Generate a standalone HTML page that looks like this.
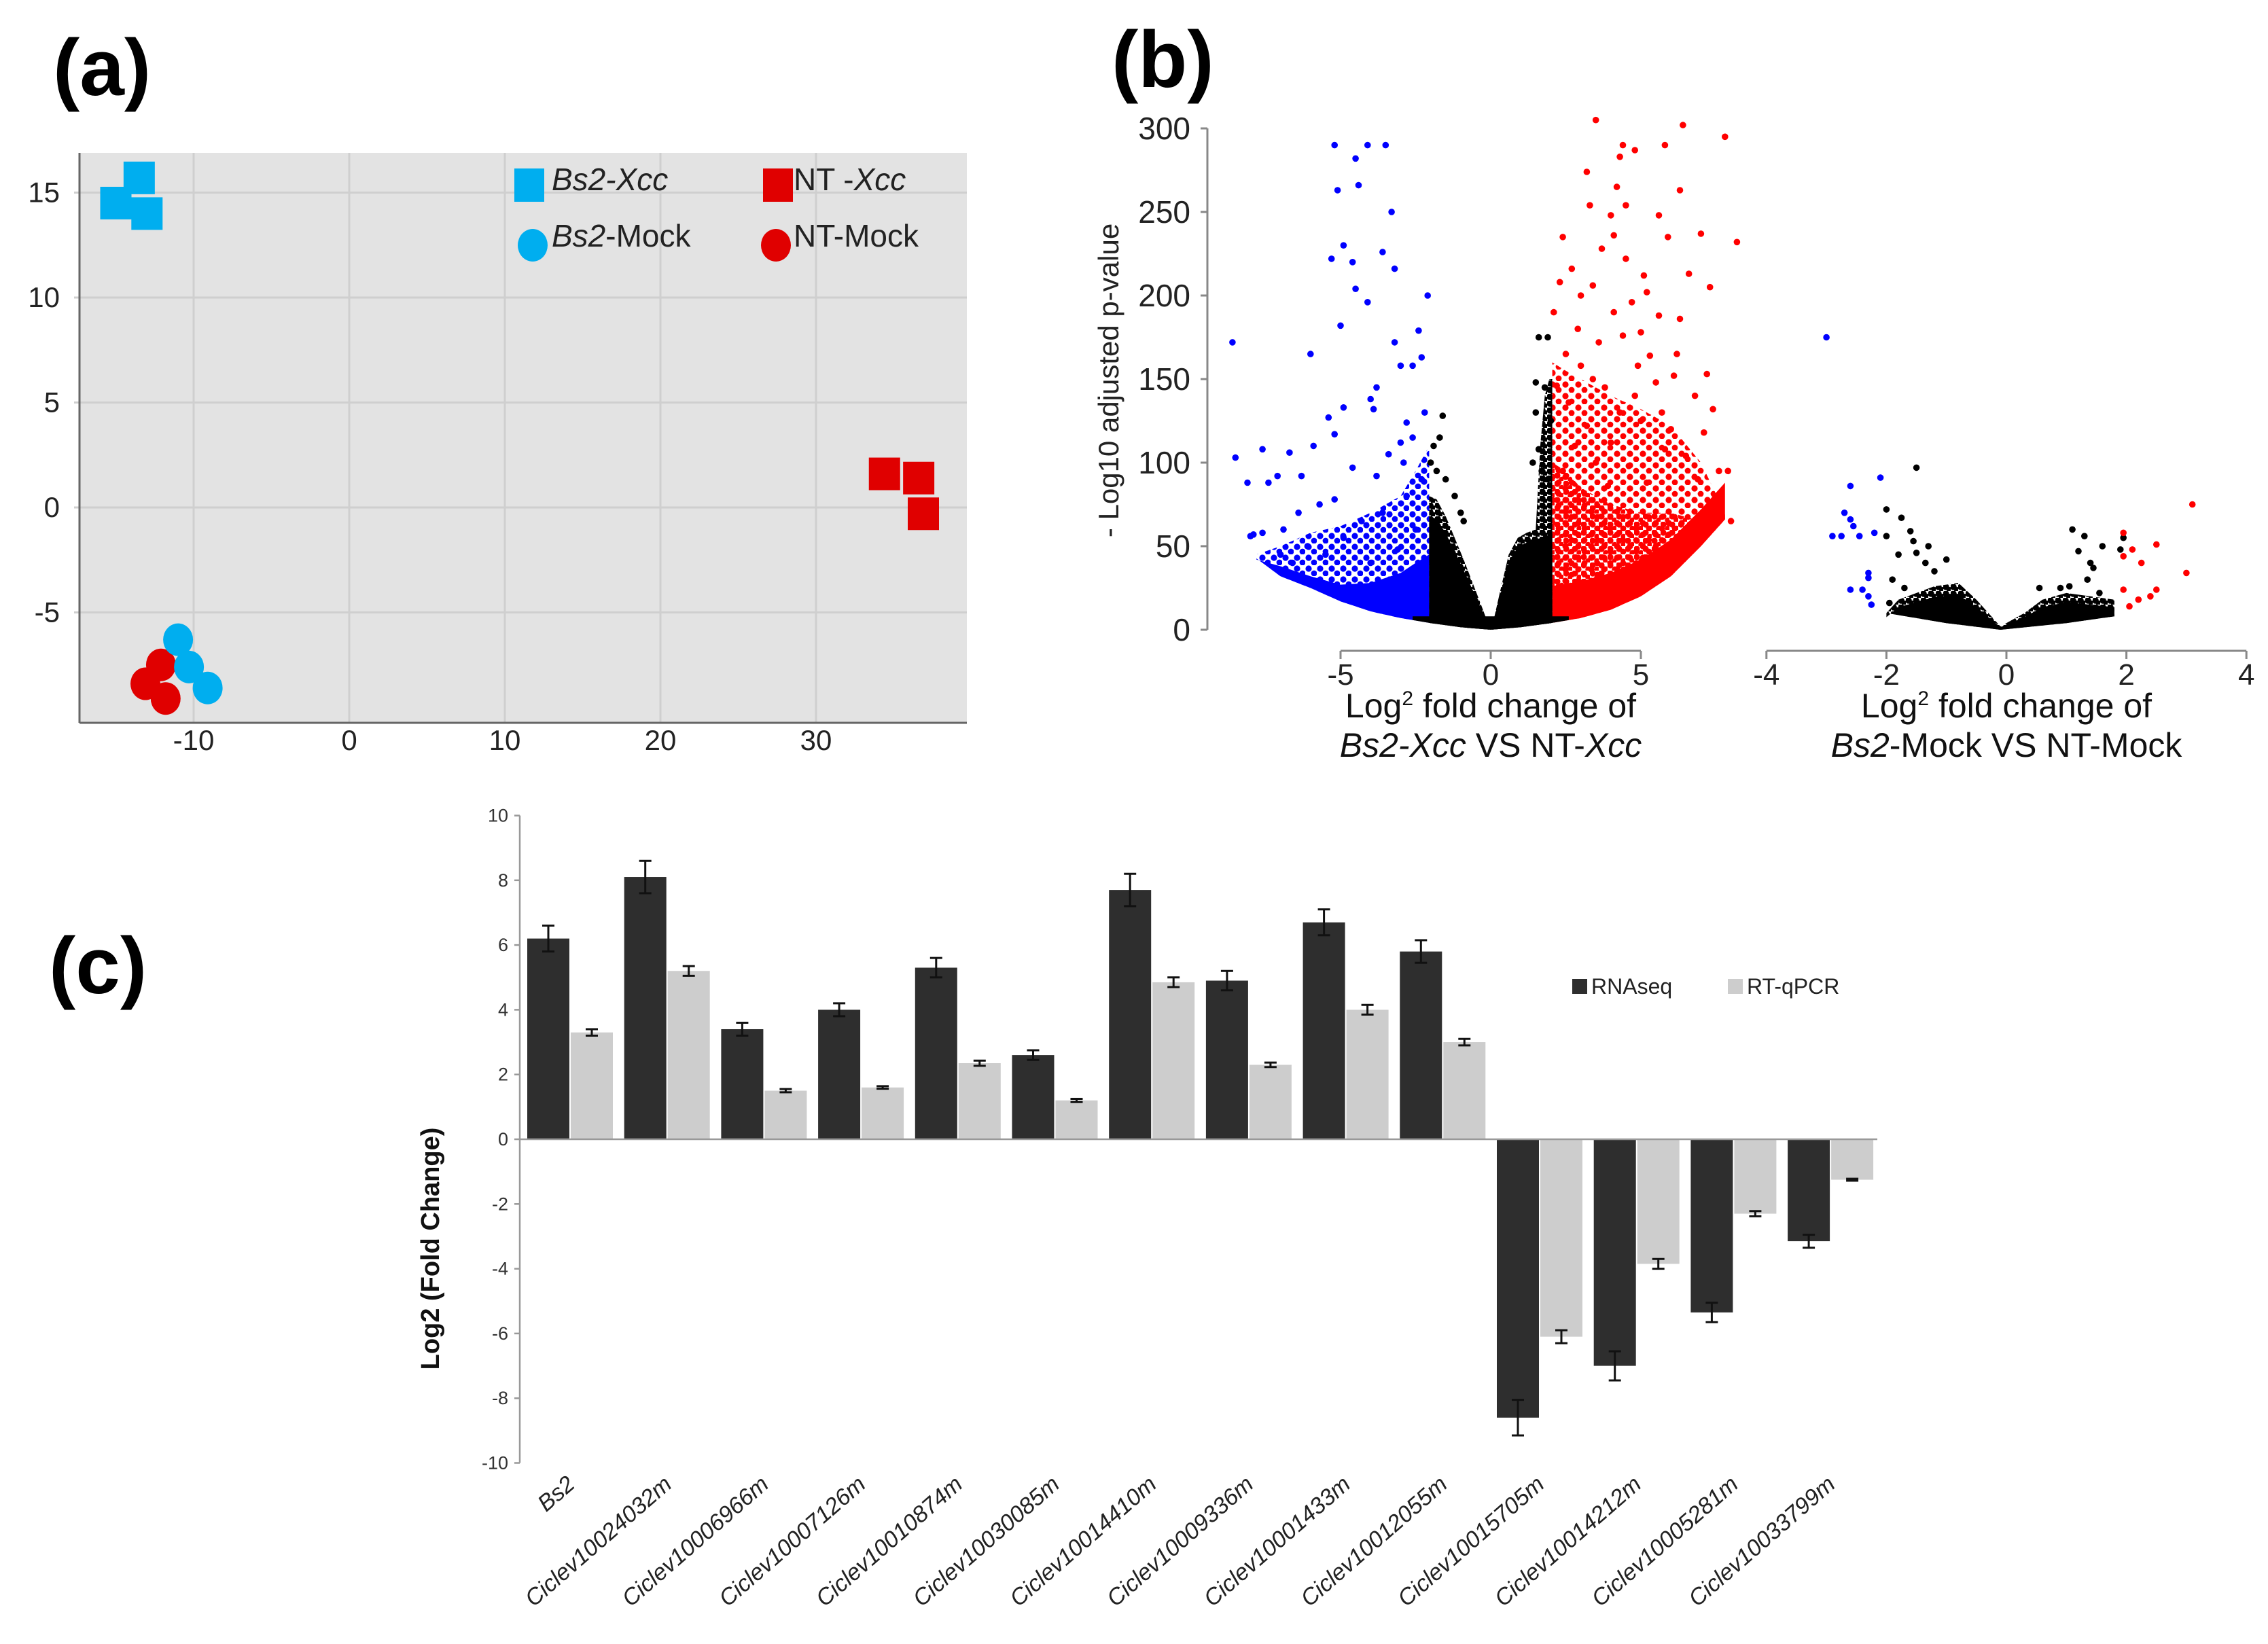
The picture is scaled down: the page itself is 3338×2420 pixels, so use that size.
<!DOCTYPE html>
<html><head><meta charset="utf-8"><title>Figure</title>
<style>
html,body{margin:0;padding:0;background:#fff;}
svg{display:block;}
text{font-family:"Liberation Sans Narrow","Liberation Sans",sans-serif;}
</style></head>
<body>
<svg id="fig" xmlns="http://www.w3.org/2000/svg" width="3338" height="2420" viewBox="0 0 3338 2420">
<defs>
<pattern id="redDots" width="13" height="12" patternUnits="userSpaceOnUse"><circle cx="4" cy="4" r="4.6" fill="#ff0000"/><circle cx="10.5" cy="10" r="4.2" fill="#ff0000"/></pattern>
<pattern id="redDotsSparse" width="19" height="17" patternUnits="userSpaceOnUse"><circle cx="5" cy="5" r="4.6" fill="#ff0000"/><circle cx="14" cy="13" r="4.4" fill="#ff0000"/></pattern>
<pattern id="blueDots" width="17" height="16" patternUnits="userSpaceOnUse"><circle cx="5" cy="5" r="4.6" fill="#0000ff"/><circle cx="13" cy="12" r="4.4" fill="#0000ff"/></pattern>
<pattern id="blackDots" width="11" height="10" patternUnits="userSpaceOnUse"><circle cx="4" cy="4" r="4.8" fill="#000"/><circle cx="9.5" cy="8.5" r="4.5" fill="#000"/></pattern>
</defs>
<rect x="0" y="0" width="3338" height="2420" fill="#fff"/>
<text x="78" y="140" font-size="118" font-weight="bold" font-family="Liberation Sans, sans-serif">(a)</text>
<text x="1636" y="128" font-size="118" font-weight="bold" font-family="Liberation Sans, sans-serif">(b)</text>
<text x="72" y="1462" font-size="118" font-weight="bold" font-family="Liberation Sans, sans-serif">(c)</text>
<g id="pa"></g>
<g id="pb"></g>
<g id="pc"></g>
</svg>
<script>
// ---------- Panel (a) data ----------
const pcaXTicks = [-10, 0, 10, 20, 30];
const pcaYTicks = [-5, 0, 5, 10, 15];
const bs2XccX = [-13.5, -15.0, -13.0];
const bs2XccY = [15.7, 14.5, 14.0];
const ntXccX = [34.4, 36.6, 36.9];
const ntXccY = [1.6, 1.4, -0.3];
const bs2MockX = [-11.0, -10.3, -9.1];
const bs2MockY = [-6.3, -7.6, -8.6];
const ntMockX = [-12.1, -13.1, -11.8];
const ntMockY = [-7.5, -8.4, -9.1];

// ---------- Panel (b) data ----------
const volYTicks = [0, 50, 100, 150, 200, 250, 300];
const volLXTicks = [-5, 0, 5];
const volRXTicks = [-4, -2, 0, 2, 4];
const bottomEnvX = [-8.5, -7, -6, -5, -4, -3, -2, -1, 0, 1, 2, 3, 4, 5, 6, 7, 7.8];
const bottomEnvY = [52, 32, 25, 17, 11, 7, 4, 1.5, 0, 1.5, 4, 7, 12, 20, 32, 50, 66];
const blueTopX = [-2.05, -2.5, -3, -4, -5, -6, -7, -7.8];
const blueTopY = [110, 95, 80, 70, 62, 58, 50, 45];
const blueCoreTopY = [45, 40, 34, 28, 27, 32, 38, 42];
const blackLTopX = [-2.05, -1.8, -1.5, -1.2, -0.9, -0.6, -0.3, -0.05];
const blackLTopY = [80, 78, 68, 55, 42, 28, 14, 2];
const blackRTopX = [0.05, 0.3, 0.6, 0.9, 1.2, 1.5, 1.8, 2.05];
const blackRTopY = [2, 22, 45, 55, 58, 60, 62, 64];
const blackRSpikeX = [1.5, 1.65, 1.8, 1.95, 2.05];
const blackRSpikeY = [60, 110, 140, 150, 150];
const redTopX = [2.05, 2.5, 3, 4, 5, 6, 7, 7.8];
const redTopY = [160, 155, 150, 140, 132, 122, 100, 70];
const redCoreTopY = [100, 95, 85, 75, 70, 70, 65, 66];
const redSparse = [[3.5,305],[6.4,302],[7.8,295],[4.4,290],[4.3,283],[5.8,290],[4.8,287],[3.2,274],[6.3,263],[3.3,254],[4.0,248],[4.5,254],[5.6,248],[2.4,235],[4.1,236],[5.9,235],[7.0,237],[8.2,232],[4.5,222],[2.7,216],[3.4,206],[5.1,212],[5.2,202],[2.3,208],[3.0,200],[4.7,196],[6.6,213],[2.1,190],[4.1,190],[5.6,188],[6.3,186],[4.4,176],[3.6,172],[5.3,164],[2.5,165],[3.0,158],[4.9,158],[6.1,152],[7.2,153],[2.2,146],[3.8,145],[5.5,148],[6.8,140],[7.4,132],[2.6,136],[4.3,130],[5.0,125],[6.0,120],[7.1,118],[3.2,122],[2.8,110],[4.0,112],[5.8,108],[6.5,104],[7.6,95],[7.9,95],[8.0,65],[3.5,100],[4.6,98],[6.9,90],[7.5,75],[5.2,88],[2.4,95],[3.9,86],[5.7,130],[4.8,140],[3.4,150],[6.2,165],[2.9,180],[5.0,178],[3.7,228],[7.3,205],[4.2,265]];
const blueSparse = [[-5.2,290],[-3.5,290],[-4.1,290],[-4.5,282],[-5.1,263],[-4.4,266],[-3.3,250],[-4.9,230],[-5.3,222],[-3.6,226],[-4.6,220],[-3.2,216],[-4.5,204],[-4.1,196],[-2.1,200],[-5.0,182],[-2.4,179],[-3.2,172],[-6.0,165],[-8.6,172],[-2.3,163],[-3.0,158],[-2.6,158],[-3.8,145],[-4.0,138],[-5.4,127],[-3.9,132],[-4.9,133],[-2.8,124],[-8.5,103],[-8.1,88],[-7.6,108],[-7.1,92],[-7.4,88],[-6.7,106],[-6.3,92],[-5.9,110],[-5.2,117],[-3.0,112],[-6.9,60],[-7.6,58],[-6.4,70],[-5.7,75],[-5.2,78],[-4.6,97],[-4.3,65],[-3.4,105],[-2.6,115],[-7.9,57],[-8.0,56],[-2.3,90],[-2.8,80],[-3.6,70],[-4.9,55],[-6.1,50],[-7.0,45],[-2.5,60],[-3.1,48],[-4.0,40],[-5.5,45],[-2.2,130],[-2.9,100],[-6.6,40],[-3.8,92]];
const blackSparseL = [[1.6,175],[1.9,175],[1.5,148],[1.8,145],[1.5,130],[2.0,125],[1.6,108],[-1.6,128],[-1.7,115],[-1.9,110],[-2.0,100],[-1.8,95],[-1.5,90],[1.4,100],[1.7,95],[1.9,90],[-1.2,80],[-1.0,70],[-0.9,65]];
const mockBlackTopX = [-2.0, -1.8, -1.5, -1.2, -0.8, -0.5, -0.1, 0.3, 0.6, 1.0, 1.4, 1.8];
const mockBlackTopY = [10, 18, 22, 26, 28, 18, 2, 10, 18, 22, 20, 18];
const mockBottomX = [-2.0, -1.0, -0.1, 1.0, 1.8];
const mockBottomY = [10, 4, 0, 4, 8];
const mockBlue = [[-3.0,175],[-2.1,91],[-2.6,86],[-2.7,70],[-2.6,66],[-2.55,62],[-2.9,56],[-2.75,56],[-2.2,58],[-2.45,56],[-2.3,34],[-2.3,31],[-2.4,24],[-2.6,24],[-2.3,20],[-2.25,15]];
const mockBlack = [[-1.5,97],[-2.0,72],[-1.75,67],[-1.6,59],[-1.55,53],[-1.3,50],[-1.5,46],[-2.0,56],[-1.8,45],[-1.35,40],[-1.0,42],[-1.2,35],[-1.9,30],[-1.7,25],[-1.95,16],[1.1,60],[1.3,56],[1.6,50],[1.95,55],[1.9,48],[1.2,47],[1.4,40],[1.45,37],[1.35,30],[1.05,26],[0.55,25],[0.9,25],[1.55,22]];
const mockRed = [[3.1,75],[1.95,58],[2.5,51],[2.1,48],[1.95,44],[2.25,40],[3.0,34],[1.95,24],[2.5,24],[2.4,20],[2.2,18],[2.05,14]];

// ---------- Panel (c) data ----------
const genes = ["Bs2","Ciclev10024032m","Ciclev10006966m","Ciclev10007126m","Ciclev10010874m","Ciclev10030085m","Ciclev10014410m","Ciclev10009336m","Ciclev10001433m","Ciclev10012055m","Ciclev10015705m","Ciclev10014212m","Ciclev10005281m","Ciclev10033799m"];
const rnaseq = [6.2, 8.1, 3.4, 4.0, 5.3, 2.6, 7.7, 4.9, 6.7, 5.8, -8.6, -7.0, -5.35, -3.15];
const rnaseqErr = [0.4, 0.5, 0.2, 0.2, 0.3, 0.15, 0.5, 0.3, 0.4, 0.35, 0.55, 0.45, 0.3, 0.2];
const qpcr = [3.3, 5.2, 1.5, 1.6, 2.35, 1.2, 4.85, 2.3, 4.0, 3.0, -6.1, -3.85, -2.3, -1.25];
const qpcrErr = [0.1, 0.15, 0.05, 0.04, 0.08, 0.05, 0.15, 0.07, 0.15, 0.1, 0.2, 0.15, 0.08, 0.03];
const barYTicks = [-10, -8, -6, -4, -2, 0, 2, 4, 6, 8, 10];

const NS = "http://www.w3.org/2000/svg";
function mk(parent, tag, attrs, txt) {
  const e = document.createElementNS(NS, tag);
  for (const k in attrs) e.setAttribute(k, attrs[k]);
  if (txt !== undefined) e.textContent = txt;
  parent.appendChild(e);
  return e;
}

// ================= Panel A =================
(function(){
  const g = document.getElementById('pa');
  const ax = x => 514 + 22.9 * x;
  const ay = y => 747 - 30.9 * y;
  const L = 117, R = 1423, T = 225, B = 1064;
  const bg = mk(g, 'rect', {x:L, y:T, width:R-L, height:B-T, fill:'#e3e3e3'});
  
  
  pcaXTicks.forEach(v => {
    const l = mk(g, 'line', {x1:ax(v), x2:ax(v), y1:T, y2:B, stroke:'#cfcfcf', 'stroke-width':3});
    
    
    const t = mk(g, 'text', {x:ax(v), y:1104, 'font-size':42, 'text-anchor':'middle', fill:'#222'}, String(v));
    
    
  });
  pcaYTicks.forEach(v => {
    const l = mk(g, 'line', {x1:L-8, x2:R, y1:ay(v), y2:ay(v), stroke:'#cfcfcf', 'stroke-width':3});
    
    
    const t = mk(g, 'text', {x:88, y:ay(v)+14, 'font-size':42, 'text-anchor':'end', fill:'#222'}, String(v));
    
    
  });
  const a1 = mk(g, 'line', {x1:L, x2:L, y1:T, y2:B, stroke:'#666', 'stroke-width':3});
  
  
  const a2 = mk(g, 'line', {x1:L, x2:R, y1:B, y2:B, stroke:'#666', 'stroke-width':3});
  
  
  function squares(xs, ys, col, name) {
    xs.forEach((x, i) => {
      const r = mk(g, 'rect', {x:ax(x)-23, y:ay(ys[i])-24, width:46, height:48, fill:col});
      
      
    });
  }
  function circles(xs, ys, col, name) {
    xs.forEach((x, i) => {
      const c = mk(g, 'ellipse', {cx:ax(x), cy:ay(ys[i]), rx:22, ry:24, fill:col});
      
      
    });
  }
  squares(bs2XccX, bs2XccY, '#00aeef', 'bs2-xcc-point');
  squares(ntXccX, ntXccY, '#e00000', 'nt-xcc-point');
  circles(ntMockX, ntMockY, '#e00000', 'nt-mock-point');
  circles(bs2MockX, bs2MockY, '#00aeef', 'bs2-mock-point');
  const lg = mk(g, 'g', {});
  
  
  const items = [
    {shape:'rect', x:757, y:248, col:'#00aeef', it:'Bs2-Xcc', rest:'', tx:812, ty:280, name:'legend-bs2-xcc'},
    {shape:'circ', x:784, y:361, col:'#00aeef', it:'Bs2', rest:'-Mock', tx:812, ty:363, name:'legend-bs2-mock'},
    {shape:'rect', x:1123, y:248, col:'#e00000', it:'', pre:'NT -', it2:'Xcc', tx:1168, ty:280, name:'legend-nt-xcc'},
    {shape:'circ', x:1142, y:361, col:'#e00000', it:'', rest:'NT-Mock', tx:1168, ty:363, name:'legend-nt-mock'}
  ];
  items.forEach(o => {
    const e = mk(lg, 'g', {});
    
    
    if (o.shape === 'rect') mk(e, 'rect', {x:o.x, y:o.y, width:44, height:49, fill:o.col});
    else mk(e, 'ellipse', {cx:o.x, cy:o.y, rx:22, ry:24, fill:o.col});
    const t = mk(e, 'text', {x:o.tx, y:o.ty, 'font-size':46, fill:'#222'});
    if (o.pre) mk(t, 'tspan', {}, o.pre);
    if (o.it) mk(t, 'tspan', {'font-style':'italic'}, o.it);
    if (o.rest) mk(t, 'tspan', {}, o.rest);
    if (o.it2) mk(t, 'tspan', {'font-style':'italic'}, o.it2);
  });
})();

// ================= Panel B =================
(function(){
  const g = document.getElementById('pb');
  const by = y => 927 - 2.46 * y;
  const bxL = x => 2194 + 44.2 * x;
  const bxR = x => 2953 + 88.3 * x;
  const ya = mk(g, 'line', {x1:1777, x2:1777, y1:by(300), y2:by(0), stroke:'#888', 'stroke-width':3});
  
  
  volYTicks.forEach(v => {
    const tk = mk(g, 'line', {x1:1767, x2:1777, y1:by(v), y2:by(v), stroke:'#888', 'stroke-width':3});
    
    
    const t = mk(g, 'text', {x:1752, y:by(v)+16, 'font-size':46, 'text-anchor':'end', fill:'#222'}, String(v));
    
    
  });
  const yt = mk(g, 'text', {x:0, y:0, 'font-size':42, 'text-anchor':'middle', fill:'#222', transform:'translate(1646,560) rotate(-90)', 'font-family':'DejaVu Sans, sans-serif'}, '- Log10 adjusted p-value');
  
  

  function poly(pts, fill, name, sx) {
    const p = mk(g, 'polygon', {points: pts.map(q => sx(q[0]).toFixed(1)+','+by(q[1]).toFixed(1)).join(' '), fill:fill});
    
    
  }
  function interp(xs, ys, x) {
    for (let i = 0; i < xs.length - 1; i++) {
      if (x >= xs[i] && x <= xs[i+1]) { const t = (x - xs[i])/(xs[i+1]-xs[i]); return ys[i] + t*(ys[i+1]-ys[i]); }
    }
    return ys[ys.length-1];
  }
  const bEnv = x => interp(bottomEnvX, bottomEnvY, x);
  function bottomPts(x0, x1) {
    const out = [[x0, bEnv(x0)]];
    bottomEnvX.forEach((x, i) => { if (x > x0 && x < x1) out.push([x, bottomEnvY[i]]); });
    out.push([x1, bEnv(x1)]);
    return out;
  }
  function region(tx, ty, fill, name) {
    const x0 = Math.min(tx[0], tx[tx.length-1]), x1 = Math.max(tx[0], tx[tx.length-1]);
    const top = tx.map((x, i) => [x, ty[i]]).sort((a, b) => a[0] - b[0]);
    const bot = bottomPts(x0, x1).reverse();
    poly(top.concat(bot), fill, name, bxL);
  }
  region(blueTopX, blueTopY, 'url(#blueDots)', 'down-regulated-scatter');
  region(blueTopX, blueCoreTopY, '#0000ff', 'down-regulated-dense');
  region(redTopX, redTopY, 'url(#redDotsSparse)', 'up-regulated-scatter');
  region(redTopX, redCoreTopY, 'url(#redDots)', 'up-regulated-dense');
  region(redTopX, redTopX.map(x => bEnv(x) + 22), '#ff0000', 'up-regulated-core');
  region(blackLTopX, blackLTopY, 'url(#blackDots)', 'non-significant-scatter');
  region(blackLTopX, blackLTopY.map(v => v * 0.85), '#000', 'non-significant-dense');
  region(blackRSpikeX, blackRSpikeY, 'url(#blackDots)', 'non-significant-scatter');
  region(blackRTopX, blackRTopY, 'url(#blackDots)', 'non-significant-scatter');
  region(blackRTopX, blackRTopY.map(v => v * 0.9), '#000', 'non-significant-dense');
  region([-2.6, 2.6], [8, 8], '#000', 'non-significant-band');

  function dots(arr, col, sx, name) {
    arr.forEach(p => {
      const c = mk(g, 'circle', {cx:sx(p[0]).toFixed(1), cy:by(p[1]).toFixed(1), r:4.8, fill:col});
      
      
    });
  }
  dots(redSparse, '#ff0000', bxL, 'up-regulated-gene');
  dots(blueSparse, '#0000ff', bxL, 'down-regulated-gene');
  dots(blackSparseL, '#000', bxL, 'non-significant-gene');
  {
    const top = mockBlackTopX.map((x, i) => [x, mockBlackTopY[i]]);
    const bot = mockBottomX.map((x, i) => [x, mockBottomY[i]]).reverse();
    const pts = top.concat(bot).map(q => bxR(q[0]).toFixed(1)+','+by(q[1]).toFixed(1)).join(' ');
    const p1 = mk(g, 'polygon', {points: pts, fill:'url(#blackDots)'});
    
    
    const top3 = mockBlackTopX.map((x, i) => [x, mockBlackTopY[i] * 0.75]);
    const pts3 = top3.concat(bot).map(q => bxR(q[0]).toFixed(1)+','+by(q[1]).toFixed(1)).join(' ');
    const p3 = mk(g, 'polygon', {points: pts3, fill:'#000'});
    
    
  }
  dots(mockBlack, '#000', bxR, 'mock-non-significant-gene');
  dots(mockBlue, '#0000ff', bxR, 'mock-down-regulated-gene');
  dots(mockRed, '#ff0000', bxR, 'mock-up-regulated-gene');

  function xaxis(ticks, sx, name) {
    const a = mk(g, 'line', {x1:sx(ticks[0]), x2:sx(ticks[ticks.length-1]), y1:958, y2:958, stroke:'#888', 'stroke-width':3});
    
    
    ticks.forEach(v => {
      const tk = mk(g, 'line', {x1:sx(v), x2:sx(v), y1:958, y2:970, stroke:'#888', 'stroke-width':3});
      
      
      const t = mk(g, 'text', {x:sx(v), y:1008, 'font-size':44, 'text-anchor':'middle', fill:'#222'}, String(v));
      
      
    });
  }
  xaxis(volLXTicks, bxL, 'x-axis-xcc');
  xaxis(volRXTicks, bxR, 'x-axis-mock');
  function xlabel(cx, parts, name) {
    const g2 = mk(g, 'g', {});
    
    
    const t1 = mk(g2, 'text', {x:cx, y:1056, 'font-size':50, 'text-anchor':'middle', fill:'#111'});
    mk(t1, 'tspan', {}, 'Log');
    mk(t1, 'tspan', {'font-size':30, dy:-18}, '2');
    mk(t1, 'tspan', {dy:18}, ' fold change of');
    const t2 = mk(g2, 'text', {x:cx, y:1114, 'font-size':50, 'text-anchor':'middle', fill:'#111'});
    parts.forEach(p => mk(t2, 'tspan', p[1] ? {'font-style':'italic'} : {}, p[0]));
  }
  xlabel(2194, [['Bs2-Xcc',1],[' VS NT-',0],['Xcc',1]], 'x-axis-title-xcc');
  xlabel(2953, [['Bs2',1],['-Mock VS NT-Mock',0]], 'x-axis-title-mock');
})();

// ================= Panel C =================
(function(){
  const g = document.getElementById('pc');
  const cy = v => 1677 - 47.65 * v;
  const step = 142.7, x0 = 776, bw = 62;
  const ya = mk(g, 'line', {x1:765, x2:765, y1:cy(10), y2:cy(-10), stroke:'#999', 'stroke-width':2.5});
  
  
  barYTicks.forEach(v => {
    const tk = mk(g, 'line', {x1:757, x2:765, y1:cy(v), y2:cy(v), stroke:'#999', 'stroke-width':2.5});
    
    
    const t = mk(g, 'text', {x:748, y:cy(v)+9, 'font-size':27, 'text-anchor':'end', fill:'#333'}, String(v));
    
    
  });
  const yt = mk(g, 'text', {x:0, y:0, 'font-size':38, 'font-weight':'bold', 'text-anchor':'middle', fill:'#111', transform:'translate(646,1838) rotate(-90)', 'font-family':'Liberation Serif, serif'}, 'Log2 (Fold Change)');
  
  
  function bar(x, v, e, col, name) {
    const y0 = cy(0), y1 = cy(v);
    const r = mk(g, 'rect', {x:x, y:Math.min(y0, y1), width:bw, height:Math.abs(y1 - y0), fill:col});
    
    
    const cx = x + bw/2;
    const eb = mk(g, 'path', {d:`M${cx},${cy(v+e)}V${cy(v-e)}M${cx-9},${cy(v+e)}H${cx+9}M${cx-9},${cy(v-e)}H${cx+9}`, stroke:'#111', 'stroke-width':3, fill:'none'});
    
    
  }
  genes.forEach((gname, i) => {
    const x = x0 + i * step;
    bar(x, rnaseq[i], rnaseqErr[i], '#2e2e2e', 'rnaseq-bar');
    bar(x + bw + 2, qpcr[i], qpcrErr[i], '#cdcdcd', 'qpcr-bar');
    const ex = x + bw + 10, ey = 2188;
    const t = mk(g, 'text', {x:0, y:0, 'font-size':34, 'font-style':'italic', 'text-anchor':'end', fill:'#222', transform:`translate(${ex},${ey}) rotate(-41)`}, gname);
    
    
  });
  const z = mk(g, 'line', {x1:765, x2:2763, y1:cy(0), y2:cy(0), stroke:'#999', 'stroke-width':2.5});
  
  
  const lg = mk(g, 'g', {});
  
  
  const l1 = mk(lg, 'g', {});
  
  
  mk(l1, 'rect', {x:2314, y:1441, width:22, height:22, fill:'#2e2e2e'});
  mk(l1, 'text', {x:2342, y:1463, 'font-size':32, fill:'#222'}, 'RNAseq');
  const l2 = mk(lg, 'g', {});
  
  
  mk(l2, 'rect', {x:2543, y:1441, width:22, height:22, fill:'#cdcdcd'});
  mk(l2, 'text', {x:2571, y:1463, 'font-size':32, fill:'#222'}, 'RT-qPCR');
})();
</script>
</body></html>
